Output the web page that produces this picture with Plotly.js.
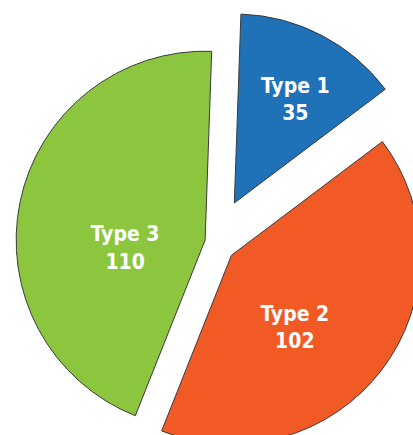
<!DOCTYPE html>
<html>
<head>
<meta charset="utf-8">
<script src="https://cdn.plot.ly/plotly-3.0.1.min.js"></script>
<style>
  html, body { margin: 0; padding: 0; width: 413px; height: 435px; overflow: hidden; background: #ffffff; }
  #wrap { position: relative; width: 413px; height: 435px; overflow: hidden; }
  #chart { position: absolute; left: -19px; top: 9px; width: 466px; height: 466px; }
</style>
</head>
<body>
<div id="wrap"><div id="chart"></div></div>
<script>
const categories = ["Type 1", "Type 2", "Type 3"];
const values = [35, 102, 110];
const sliceColors = ["#1f72b8", "#f15a24", "#8cc63f"];
const pulls = [0.233, 0.116, 0.048];

// pick the narrowest installed bold sans face for the condensed labels
function hasFont(f) {
  const ctx = document.createElement("canvas").getContext("2d");
  const t = "Type 1 35 110 mmmWWWiiilll";
  let diff = false;
  ["monospace", "serif"].forEach(function (base) {
    ctx.font = "bold 40px " + base;
    const a = ctx.measureText(t).width;
    ctx.font = 'bold 40px "' + f + '", ' + base;
    const b = ctx.measureText(t).width;
    if (Math.abs(a - b) > 0.5) diff = true;
  });
  return diff;
}
const candidates = [
  ["Liberation Sans Narrow", 23],
  ["DejaVu Sans Condensed", 21],
  ["Roboto Condensed", 23],
  ["Roboto", 21],
  ["Liberation Sans", 21]
];
let labelFont = "sans-serif", labelSize = 21;
for (const c of candidates) {
  if (hasFont(c[0])) { labelFont = c[0]; labelSize = c[1]; break; }
}

// label layout: blank lead lines / side padding nudge the library-placed text
const NB = "\u00a0";
const pad = NB + NB + NB + NB;
const textTemplates = [
  NB + "<br>%{label}<br>%{value}",
  NB + "<br>%{label}" + pad + "<br>%{value}" + pad,
  NB + "<br>" + NB + "<br>" + pad + "%{label}<br>" + pad + "%{value}"
];

const trace = {
  type: "pie",
  labels: categories,
  values: values,
  sort: false,
  direction: "clockwise",
  rotation: 2,
  pull: pulls,
  marker: { colors: sliceColors, line: { color: "#3a3a3a", width: 1 } },
  textinfo: "label+value",
  texttemplate: textTemplates,
  textposition: "inside",
  insidetextorientation: "horizontal",
  textfont: { family: labelFont, size: labelSize, color: "#ffffff", weight: "bold" },
  hoverinfo: "label+value+percent",
  showlegend: false
};

const layout = {
  width: 466,
  height: 466,
  margin: { l: 0, r: 0, t: 0, b: 0 },
  paper_bgcolor: "rgba(0,0,0,0)",
  plot_bgcolor: "rgba(0,0,0,0)",
  showlegend: false
};

Plotly.newPlot("chart", [trace], layout, { displayModeBar: false, staticPlot: true });
</script>
</body>
</html>
